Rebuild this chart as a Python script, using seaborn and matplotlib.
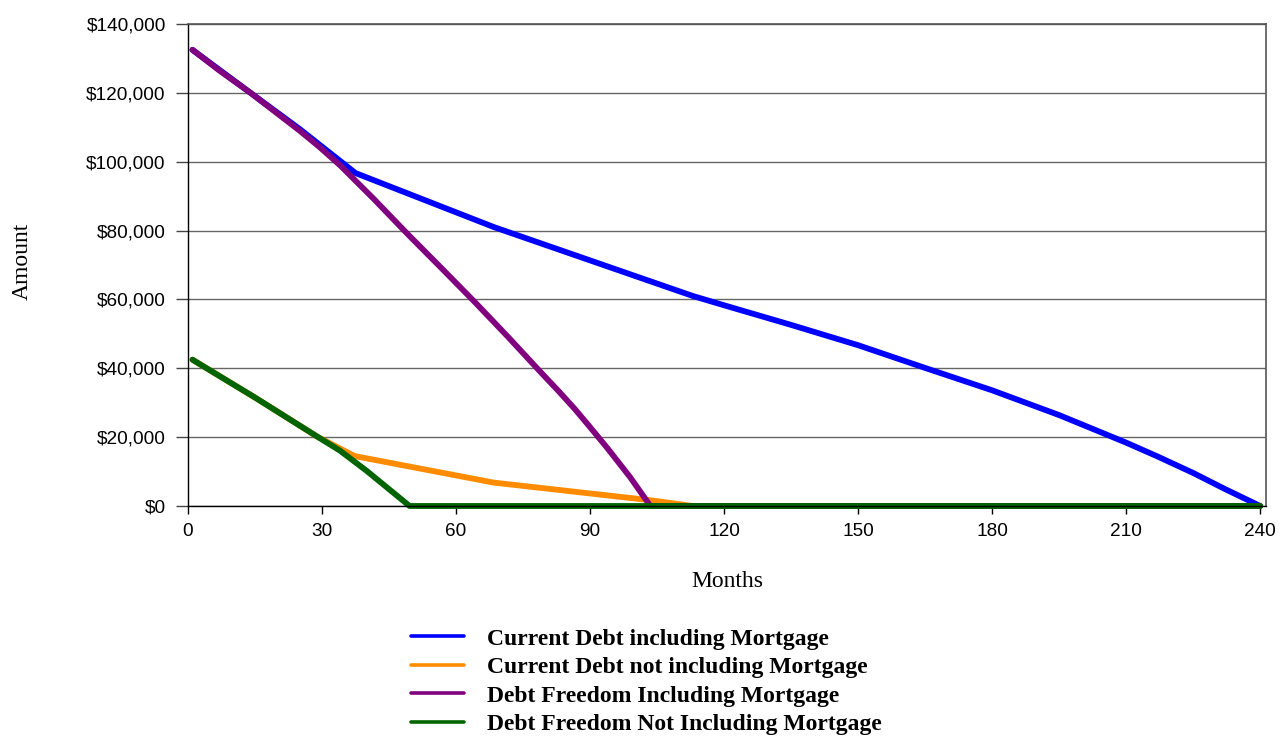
import numpy as np
import pandas as pd
import matplotlib
matplotlib.use("Agg")
import matplotlib.pyplot as plt
from matplotlib.ticker import FuncFormatter
from matplotlib.font_manager import FontProperties
import seaborn as sns

# Debt balance over time for four repayment scenarios
series_names = [
    "Current Debt including Mortgage",
    "Current Debt not including Mortgage",
    "Debt Freedom Including Mortgage",
    "Debt Freedom Not Including Mortgage",
]
series_colors = ["#0000FF", "#FF8C00", "#800080", "#006400"]

current_incl_months = [1, 14, 25, 37.5, 68.5, 113, 120, 135, 150, 165, 180, 195,
                       210, 217, 225, 232, 240]
current_incl_values = [132500, 120000, 109500, 96700, 81000, 61000, 58300, 52600,
                       46700, 40100, 33600, 26400, 18400, 14400, 9600, 5000, 0]

current_excl_months = [1, 15, 29, 37.3, 68.4, 103.3, 113, 240]
current_excl_values = [42500, 31500, 20100, 14500, 6800, 1700, 0, 0]

freedom_incl_months = [1, 7, 14, 20, 25, 29.5, 34, 41.5, 49, 56.5, 64, 71.5,
                       79, 83, 86.5, 90, 94, 99, 103.5, 240]
freedom_incl_values = [132500, 126500, 120000, 114000, 109000, 104200, 99000,
                       89300, 79200, 69400, 59500, 49300, 38800, 33300, 28300,
                       22900, 16600, 8300, 0, 0]

freedom_excl_months = [1, 15, 29, 34, 40, 49.6, 240]
freedom_excl_values = [42500, 31500, 20100, 16100, 10200, 0, 0]

x_ticks = [0, 30, 60, 90, 120, 150, 180, 210, 240]
y_ticks = [0, 20000, 40000, 60000, 80000, 100000, 120000, 140000]

frames = []
for name, months, values in [
    (series_names[0], current_incl_months, current_incl_values),
    (series_names[1], current_excl_months, current_excl_values),
    (series_names[2], freedom_incl_months, freedom_incl_values),
    (series_names[3], freedom_excl_months, freedom_excl_values),
]:
    frames.append(pd.DataFrame({"Months": months, "Amount": values, "Series": name}))
df = pd.concat(frames, ignore_index=True)

sns.set_theme(style="white")
plt.rcParams["font.family"] = ["Liberation Sans", "DejaVu Sans"]

fig = plt.figure(figsize=(12.81, 7.36), dpi=100)
ax = fig.add_axes([188 / 1281, 1 - 506 / 736, (1266 - 188) / 1281, (506 - 24) / 736])

sns.lineplot(
    data=df, x="Months", y="Amount", hue="Series", hue_order=series_names,
    palette=series_colors, estimator=None, sort=False, linewidth=4.2,
    ax=ax, legend=True,
)
for line in ax.get_lines():
    line.set_clip_on(False)
    line.set_solid_joinstyle("round")

ax.set_xlim(0, 241.3)
ax.set_ylim(0, 140000)
ax.set_xticks(x_ticks)
ax.set_yticks(y_ticks)
ax.yaxis.set_major_formatter(FuncFormatter(lambda v, p: f"${v:,.0f}"))

ax.yaxis.grid(True, color="#666666", linewidth=1.0)
ax.xaxis.grid(False)
ax.set_axisbelow(True)

for side in ["left", "bottom"]:
    ax.spines[side].set_color("black")
    ax.spines[side].set_linewidth(1.0)
for side in ["top", "right"]:
    ax.spines[side].set_color("#555555")
    ax.spines[side].set_linewidth(1.2)

ax.tick_params(axis="y", which="major", direction="out", length=9, width=1,
               color="#444444", pad=7, labelsize=13.7, labelcolor="black", left=True)
ax.tick_params(axis="x", which="major", direction="out", length=6, width=1,
               color="black", pad=6, labelsize=13.7, labelcolor="black", bottom=True)

serif = ["Liberation Serif", "DejaVu Serif"]
ax.set_xlabel("Months", family=serif, fontsize=17, color="black")
ax.set_ylabel("Amount", family=serif, fontsize=17, color="black")
ax.xaxis.set_label_coords(0.5, -0.135)
ax.yaxis.set_label_coords(-0.144, 0.508)

handles, labels = ax.get_legend_handles_labels()
ax.get_legend().remove()
leg = fig.legend(
    handles, labels, loc="upper left",
    bbox_to_anchor=(411 / 1281, 1 - 628 / 736), bbox_transform=fig.transFigure,
    frameon=False, borderpad=0, borderaxespad=0, handlelength=2.25,
    handletextpad=0.95, labelspacing=0.3, labelcolor="black",
    prop=FontProperties(family=serif, weight="bold", size=17),
)
for h in leg.get_lines():
    h.set_linewidth(2.6)

fig.savefig("out.png", dpi=100, facecolor="white")
